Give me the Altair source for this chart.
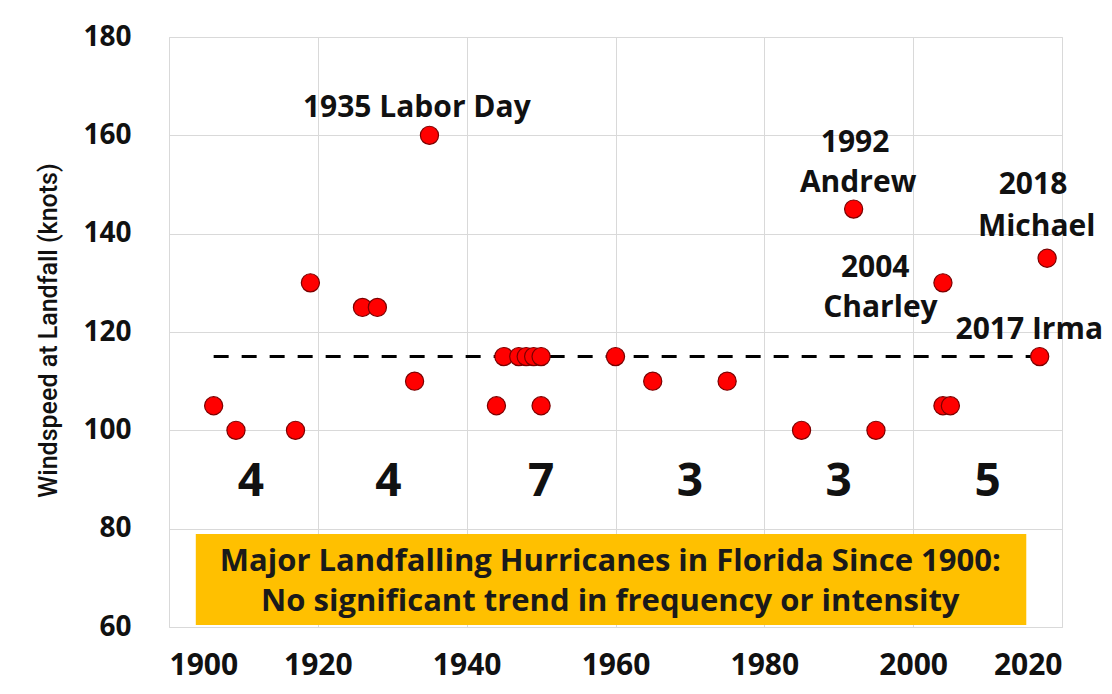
import altair as alt
import pandas as pd

# Hurricane landfalls (year, windspeed in knots)
years = [1906, 1909, 1917, 1919, 1926, 1928, 1933, 1935, 1944, 1945, 1947, 1948,
         1949, 1950, 1950, 1960, 1965, 1975, 1985, 1992, 1995, 2004, 2004, 2005,
         2017, 2018]
winds = [105, 100, 100, 130, 125, 125, 110, 160, 105, 115, 115, 115,
         115, 105, 115, 115, 110, 110, 100, 145, 100, 130, 105, 105,
         115, 135]

# Dashed reference line (mean major-hurricane intensity)
ref_years = [1906, 2018]
ref_wind = [115, 115]

# Counts per 20-year period
count_labels = ["4", "4", "7", "3", "3", "5"]
count_x = [1911, 1929.5, 1950, 1970, 1990, 2010]
count_y = [89.5] * 6

# Storm name annotations
ann_text = ["1935 Labor Day", "1992", "Andrew", "2018", "Michael", "2004", "Charley", "2017 Irma"]
ann_x = [1933.3, 1992.2, 1992.6, 2016.1, 2016.6, 1994.9, 1995.6, 2015.6]
ann_y = [165.5, 158.4, 150.3, 149.9, 141.4, 133.0, 124.9, 120.4]

# Summary box
box_x = [1903.6]
box_x2 = [2015.2]
box_y = [60.4]
box_y2 = [78.9]
box_lines = ["Major Landfalling Hurricanes in Florida Since 1900:",
             "No significant trend in frequency or intensity"]
box_text_x = [1959.3, 1959.3]
box_text_y = [73.2, 65.1]

xscale = alt.Scale(domain=[1900, 2020], nice=False, zero=False)
yscale = alt.Scale(domain=[60, 180], nice=False, zero=False)

pts = pd.DataFrame({"year": years, "wind": winds})
ref = pd.DataFrame({"year": ref_years, "wind": ref_wind})
cnt = pd.DataFrame({"x": count_x, "y": count_y, "t": count_labels})
ann = pd.DataFrame({"x": ann_x, "y": ann_y, "t": ann_text})
box = pd.DataFrame({"x": box_x, "x2": box_x2, "y": box_y, "y2": box_y2})
btxt = pd.DataFrame({"x": box_text_x, "y": box_text_y, "t": box_lines})

xaxis = alt.Axis(values=[1900, 1920, 1940, 1960, 1980, 2000, 2020], format="d",
                 title=None, grid=True, gridColor="#D9D9D9", domain=False, ticks=False,
                 labelFont="Open Sans", labelFontWeight="bold",
                 labelFontSize=30, labelColor="#111111", labelPadding=23)
yaxis = alt.Axis(values=[60, 80, 100, 120, 140, 160, 180], title="Windspeed at Landfall (knots)",
                 grid=True, gridColor="#D9D9D9", domain=False, ticks=False,
                 labelFont="Open Sans", labelFontWeight="bold", labelFontSize=28,
                 labelColor="#111111", labelPadding=38,
                 titleFont="Roboto", titleFontSize=25, titleFontWeight=500,
                 titleColor="#111111", titleAngle=-90, titleAlign="center",
                 titleBaseline="middle", titleX=-121, titleY=293)

boxlayer = alt.Chart(box).mark_rect(color="#FFC000").encode(
    x=alt.X("x:Q", scale=xscale, axis=xaxis), x2="x2:Q",
    y=alt.Y("y:Q", scale=yscale, axis=yaxis), y2="y2:Q")

boxtext = alt.Chart(btxt).mark_text(font="Open Sans", fontWeight="bold", fontSize=31,
                                    color="#1A1A1A", align="center", baseline="middle").encode(
    x=alt.X("x:Q", scale=xscale), y=alt.Y("y:Q", scale=yscale), text="t:N")

refline = alt.Chart(ref).mark_line(color="#000000", strokeWidth=3, strokeDash=[15, 13]).encode(
    x=alt.X("year:Q", scale=xscale), y=alt.Y("wind:Q", scale=yscale))

points = alt.Chart(pts).mark_point(filled=True, shape="circle", size=330, fill="#FF0000",
                                   stroke="#7A0000", strokeWidth=1.2, opacity=1).encode(
    x=alt.X("year:Q", scale=xscale), y=alt.Y("wind:Q", scale=yscale))

counts = alt.Chart(cnt).mark_text(font="Open Sans", fontWeight="bold", fontSize=46,
                                  color="#111111", align="center", baseline="middle").encode(
    x=alt.X("x:Q", scale=xscale), y=alt.Y("y:Q", scale=yscale), text="t:N")

annot = alt.Chart(ann).mark_text(font="Open Sans", fontWeight="bold", fontSize=30,
                                 color="#111111", align="center", baseline="middle").encode(
    x=alt.X("x:Q", scale=xscale), y=alt.Y("y:Q", scale=yscale), text="t:N")

chart = alt.layer(boxlayer, boxtext, refline, points, counts, annot).properties(
    width=893, height=590,
    autosize=alt.AutoSizeParams(type="none"),
    padding={"left": 161, "top": 29, "right": 42, "bottom": 59},
).configure_view(stroke=None).configure(background="#FFFFFF")

chart.save("out.html", embed_options={"renderer": "svg", "actions": False})
